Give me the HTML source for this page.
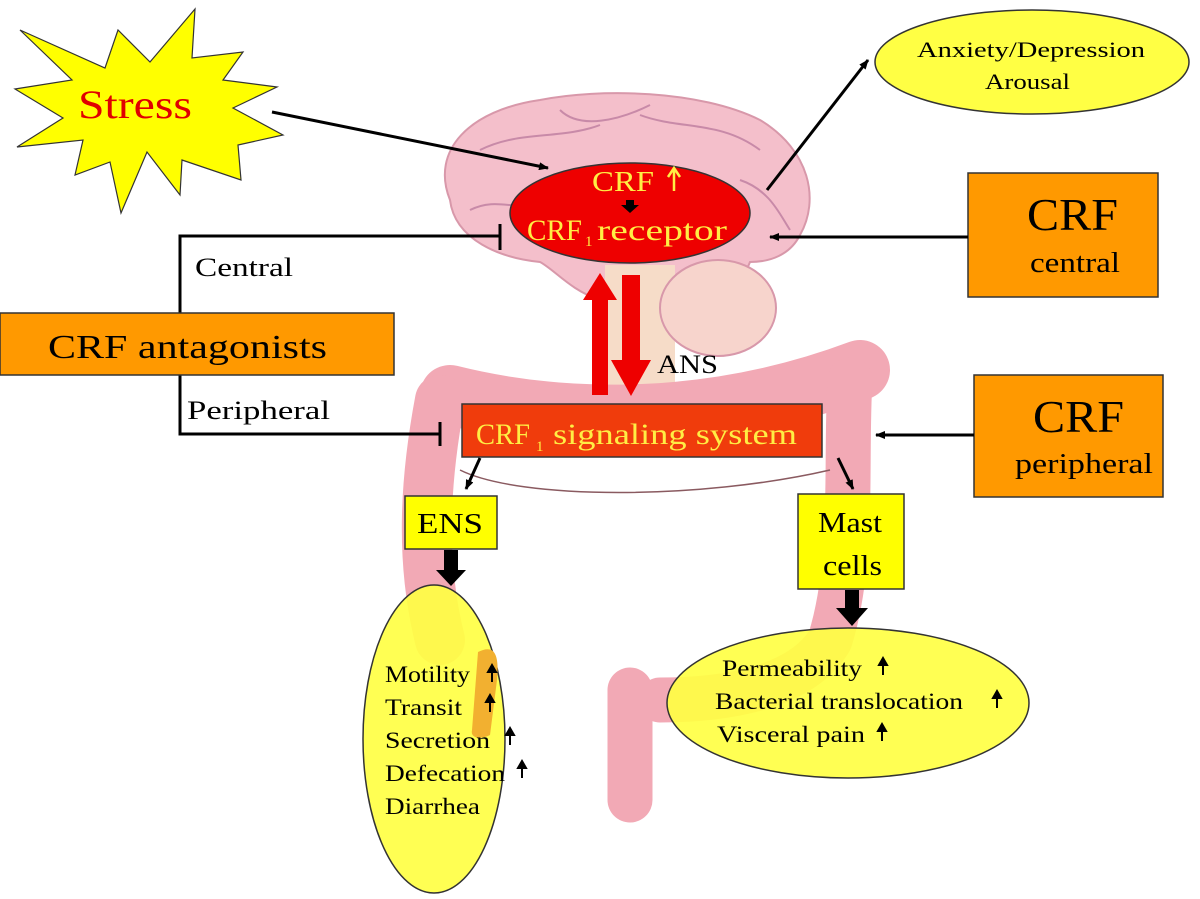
<!DOCTYPE html>
<html><head><meta charset="utf-8"><style>
html,body{margin:0;padding:0;background:#fff}
svg{display:block}
text{font-family:"Liberation Serif",serif}
</style></head><body>
<svg width="1200" height="899" viewBox="0 0 1200 899" xmlns="http://www.w3.org/2000/svg">
<defs>
<marker id="ah" markerWidth="10" markerHeight="8" refX="9" refY="4" orient="auto" markerUnits="userSpaceOnUse"><path d="M0,0 L10,4 L0,8 z" fill="#000"/></marker>
</defs>
<!-- brain -->
<path d="M450,200 C430,150 470,110 540,100 C600,88 700,90 760,120 C810,150 820,200 800,235 C790,255 770,262 750,262 C740,290 700,300 680,300 L670,330 L610,330 L600,300 C570,290 555,270 540,262 C500,258 455,240 450,200 Z" fill="#f4bfcb" stroke="#d898aa" stroke-width="2"/>
<path d="M480,150 C520,130 560,140 600,125 M640,115 C680,130 720,120 760,150 M470,210 C500,195 520,215 545,200 M740,180 C770,190 780,215 790,230 M560,110 C580,130 620,120 650,105" stroke="#c88aa8" stroke-width="2" fill="none"/>
<rect x="605" y="265" width="70" height="150" fill="#f6dcc8"/>
<ellipse cx="718" cy="308" rx="58" ry="48" fill="#f7d4cc" stroke="#d898aa" stroke-width="2"/>
<!-- colon -->
<g fill="none" stroke="#f2a9b5" stroke-linecap="round" stroke-linejoin="round">
<path d="M450,395 C550,420 700,430 860,370" stroke-width="60"/>
<path d="M440,400 C425,480 420,560 440,640" stroke-width="50"/>
<path d="M850,380 C845,460 855,560 830,640 C800,690 720,700 660,700" stroke-width="45"/>
<path d="M630,690 L630,800" stroke-width="45"/>
</g>
<path d="M460,470 C520,500 700,500 830,470" stroke="#8a5a60" stroke-width="1.5" fill="none"/>
<!-- star -->
<polygon points="20,30 105,68 118,30 150,62 195,9 192,58 243,52 223,80 277,87 233,108 283,135 238,145 241,180 182,160 180,195 147,152 121,213 110,162 75,175 83,140 17,147 63,118 15,89 72,80" fill="#ffff00" stroke="#333" stroke-width="1.2"/>
<text x="78" y="118" font-size="40" fill="#e00000" textLength="114" lengthAdjust="spacingAndGlyphs">Stress</text>
<line x1="272" y1="112" x2="548" y2="168" stroke="#000" stroke-width="3" marker-end="url(#ah)"/>
<!-- anxiety -->
<ellipse cx="1032" cy="62" rx="157" ry="52" fill="#ffff44" stroke="#333" stroke-width="1.5"/>
<text x="917" y="57" font-size="22" textLength="228" lengthAdjust="spacingAndGlyphs">Anxiety/Depression</text>
<text x="985" y="89" font-size="22" textLength="85" lengthAdjust="spacingAndGlyphs">Arousal</text>
<line x1="767" y1="190" x2="868" y2="60" stroke="#000" stroke-width="3" marker-end="url(#ah)"/>
<!-- red ellipse -->
<ellipse cx="630" cy="213" rx="120" ry="50" fill="#ee0000" stroke="#333" stroke-width="1.5"/>
<text x="592" y="191" font-size="28" fill="#ffee44" textLength="62" lengthAdjust="spacingAndGlyphs">CRF</text>
<path d="M674,170 L674,191 M668,177 L674,168 L680,177" stroke="#ffee44" stroke-width="2.5" fill="none"/>
<path d="M626,200 L634,200 L634,205 L639,205 L630,213 L621,205 L626,205 Z" fill="#000"/>
<text x="527" y="240" font-size="30" fill="#ffee44" textLength="55" lengthAdjust="spacingAndGlyphs">CRF</text>
<text x="585" y="246" font-size="15" fill="#ffee44">1</text>
<text x="597" y="240" font-size="30" fill="#ffee44" textLength="130" lengthAdjust="spacingAndGlyphs">receptor</text>
<!-- CRF central -->
<rect x="968" y="173" width="190" height="124" fill="#ff9900" stroke="#333" stroke-width="1.5"/>
<text x="1027" y="230" font-size="46" textLength="91" lengthAdjust="spacingAndGlyphs">CRF</text>
<text x="1030" y="272" font-size="28" textLength="90" lengthAdjust="spacingAndGlyphs">central</text>
<line x1="968" y1="237" x2="770" y2="237" stroke="#000" stroke-width="3" marker-end="url(#ah)"/>
<!-- antagonists -->
<path d="M180,313 L180,236 L500,236 M500,224 L500,250" stroke="#000" stroke-width="3" fill="none"/>
<path d="M180,375 L180,434 L440,434 M440,422 L440,446" stroke="#000" stroke-width="3" fill="none"/>
<text x="195" y="276" font-size="26" textLength="98" lengthAdjust="spacingAndGlyphs">Central</text>
<text x="187" y="419" font-size="26" textLength="143" lengthAdjust="spacingAndGlyphs">Peripheral</text>
<rect x="0" y="313" width="394" height="62" fill="#ff9900" stroke="#333" stroke-width="1.5"/>
<text x="48" y="358" font-size="34" textLength="279" lengthAdjust="spacingAndGlyphs">CRF antagonists</text>
<!-- red arrows -->
<path d="M592,395 L592,300 L583,300 L600,273 L617,300 L608,300 L608,395 Z" fill="#ee0000"/>
<path d="M622,275 L640,275 L640,360 L651,360 L631,396 L611,360 L622,360 Z" fill="#ee0000"/>
<text x="657" y="373" font-size="26" textLength="61" lengthAdjust="spacingAndGlyphs">ANS</text>
<!-- signaling box -->
<rect x="462" y="404" width="360" height="53" fill="#f03c0c" stroke="#333" stroke-width="1.5"/>
<text x="476" y="444" font-size="30" fill="#ffee44" textLength="54" lengthAdjust="spacingAndGlyphs">CRF</text>
<text x="536" y="451" font-size="15" fill="#ffee44">1</text>
<text x="553" y="444" font-size="30" fill="#ffee44" textLength="244" lengthAdjust="spacingAndGlyphs">signaling system</text>
<!-- CRF peripheral -->
<rect x="974" y="375" width="189" height="122" fill="#ff9900" stroke="#333" stroke-width="1.5"/>
<text x="1033" y="432" font-size="46" textLength="91" lengthAdjust="spacingAndGlyphs">CRF</text>
<text x="1015" y="473" font-size="28" textLength="138" lengthAdjust="spacingAndGlyphs">peripheral</text>
<line x1="974" y1="435" x2="876" y2="435" stroke="#000" stroke-width="3" marker-end="url(#ah)"/>
<line x1="480" y1="458" x2="466" y2="489" stroke="#000" stroke-width="3" marker-end="url(#ah)"/>
<line x1="838" y1="458" x2="853" y2="489" stroke="#000" stroke-width="3" marker-end="url(#ah)"/>
<!-- ENS / Mast -->
<rect x="405" y="496" width="92" height="53" fill="#ffff00" stroke="#333" stroke-width="1.5"/>
<text x="417" y="533" font-size="28" textLength="66" lengthAdjust="spacingAndGlyphs">ENS</text>
<rect x="798" y="494" width="106" height="95" fill="#ffff00" stroke="#333" stroke-width="1.5"/>
<text x="818" y="532" font-size="28" textLength="64" lengthAdjust="spacingAndGlyphs">Mast</text>
<text x="823" y="575" font-size="28" textLength="59" lengthAdjust="spacingAndGlyphs">cells</text>
<path d="M444,550 L458,550 L458,570 L466,570 L451,586 L436,570 L444,570 Z" fill="#000"/>
<path d="M845,590 L859,590 L859,608 L868,608 L852,626 L836,608 L845,608 Z" fill="#000"/>
<!-- left ellipse -->
<ellipse cx="434" cy="739" rx="71" ry="154" fill="#ffff44" fill-opacity="0.92" stroke="#333" stroke-width="1.5"/>
<path d="M478,652 C492,645 500,650 497,680 L490,735 C480,740 470,738 472,730 Z" fill="#f2b030"/>
<g font-size="23">
<text x="385" y="682" textLength="85" lengthAdjust="spacingAndGlyphs">Motility</text>
<text x="385" y="715" textLength="77" lengthAdjust="spacingAndGlyphs">Transit</text>
<text x="385" y="748" textLength="105" lengthAdjust="spacingAndGlyphs">Secretion</text>
<text x="385" y="781" textLength="120" lengthAdjust="spacingAndGlyphs">Defecation</text>
<text x="385" y="814" textLength="95" lengthAdjust="spacingAndGlyphs">Diarrhea</text>
</g>
<g stroke="#000" stroke-width="2" fill="#000">
<path d="M492,682 L492,670"/><path d="M488,672 L492,665 L496,672Z"/>
<path d="M490,712 L490,700"/><path d="M486,702 L490,695 L494,702Z"/>
<path d="M510,745 L510,733"/><path d="M506,735 L510,728 L514,735Z"/>
<path d="M522,778 L522,766"/><path d="M518,768 L522,761 L526,768Z"/>
</g>
<!-- right ellipse -->
<ellipse cx="848" cy="703" rx="181" ry="75" fill="#ffff44" fill-opacity="0.92" stroke="#333" stroke-width="1.5"/>
<g font-size="23">
<text x="722" y="676" textLength="140" lengthAdjust="spacingAndGlyphs">Permeability</text>
<text x="715" y="709" textLength="248" lengthAdjust="spacingAndGlyphs">Bacterial translocation</text>
<text x="717" y="742" textLength="148" lengthAdjust="spacingAndGlyphs">Visceral pain</text>
</g>
<g stroke="#000" stroke-width="2" fill="#000">
<path d="M883,675 L883,663"/><path d="M879,665 L883,658 L887,665Z"/>
<path d="M997,708 L997,696"/><path d="M993,698 L997,691 L1001,698Z"/>
<path d="M882,741 L882,729"/><path d="M878,731 L882,724 L886,731Z"/>
</g>
</svg>
</body></html>
